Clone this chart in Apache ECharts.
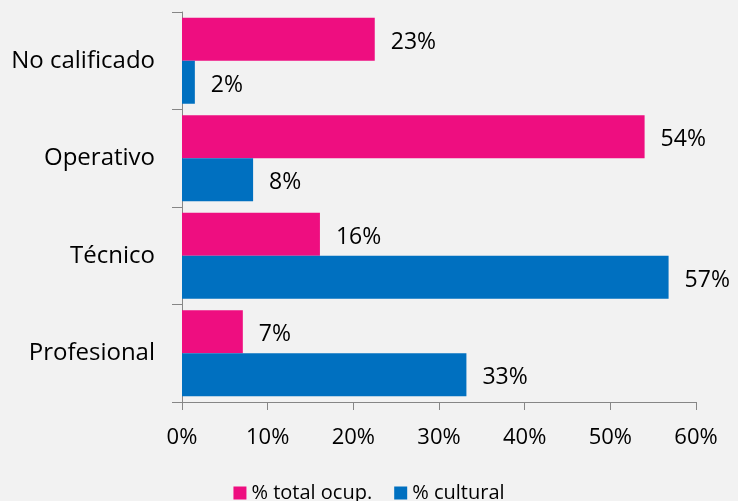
<!DOCTYPE html>
<html>
<head>
<meta charset="utf-8">
<script src="https://cdn.jsdelivr.net/npm/echarts@6/dist/echarts.min.js"></script>
<style>
  html, body { margin: 0; padding: 0; background: #f2f2f2; }
  #itemChar { width: 738px; height: 501px; }
</style>
</head>
<body>
<div id="itemChar"></div>
<script>
  // categorias de arriba hacia abajo
  var categorias = ['No calificado', 'Operativo', 'Técnico', 'Profesional']
  var totalOcup = [22.5, 54.0, 16.1, 7.1]
  var cultural = [1.5, 8.3, 56.8, 33.2]
  var ticksX = [0, 10, 20, 30, 40, 50, 60]

  var fuente = '"Open Sans", sans-serif'
  var gris = '#868686'

  var mychar = echarts.init(document.getElementById('itemChar'))
  var option = {
    backgroundColor: '#f2f2f2',
    textStyle: { fontFamily: fuente },
    grid: { left: 182, right: 42, top: 12, bottom: 99 },
    legend: {
      top: 478,
      left: 'center',
      itemWidth: 13,
      itemHeight: 13,
      itemGap: 22,
      icon: 'rect',
      textStyle: { fontSize: 20, color: '#000', fontFamily: fuente },
      data: ['% total ocup.', '% cultural']
    },
    xAxis: {
      type: 'value',
      min: ticksX[0],
      max: ticksX[ticksX.length - 1],
      interval: 10,
      splitLine: { show: false },
      axisLine: { show: true, lineStyle: { color: gris } },
      axisTick: { show: true, length: 8, lineStyle: { color: gris } },
      axisLabel: {
        margin: 25,
        fontSize: 22,
        color: '#000',
        fontFamily: fuente,
        formatter: function (v) { return v + '%' }
      }
    },
    yAxis: {
      type: 'category',
      inverse: true,
      data: categorias,
      axisLine: { show: true, lineStyle: { color: gris } },
      axisTick: { show: true, length: 10, lineStyle: { color: gris } },
      axisLabel: { margin: 27, fontSize: 24, color: '#000', fontFamily: fuente }
    },
    series: [
      {
        name: '% total ocup.',
        type: 'bar',
        data: totalOcup,
        barWidth: 43,
        barGap: '0%',
        itemStyle: { color: '#ee0e80' },
        label: {
          show: true,
          position: 'right',
          distance: 16,
          offset: [0, 3],
          fontSize: 23,
          color: '#000',
          fontFamily: fuente,
          formatter: function (p) { return Math.round(p.value) + '%' }
        }
      },
      {
        name: '% cultural',
        type: 'bar',
        data: cultural,
        barWidth: 43,
        barGap: '0%',
        itemStyle: { color: '#0070c0' },
        label: {
          show: true,
          position: 'right',
          distance: 16,
          offset: [0, 3],
          fontSize: 23,
          color: '#000',
          fontFamily: fuente,
          formatter: function (p) { return Math.round(p.value) + '%' }
        }
      }
    ]
  }
  mychar.setOption(option)
</script>
</body>
</html>
